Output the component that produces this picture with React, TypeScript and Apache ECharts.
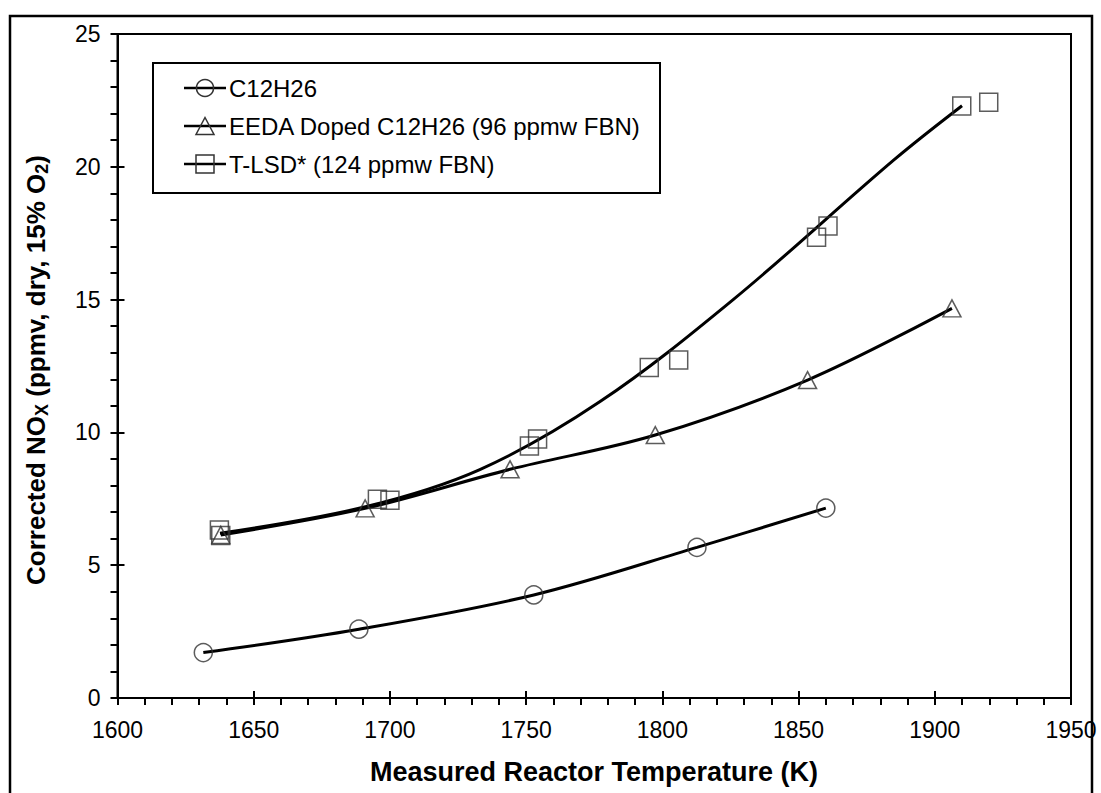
import React, { useEffect, useRef } from "react";
import * as echarts from "echarts";

// ---- data ----
const c12Temp = [1631.5, 1688.6, 1752.8, 1812.7, 1860];
const c12NOx = [1.71, 2.59, 3.88, 5.67, 7.15];

const eedaTemp = [1637.9, 1690.9, 1744.1, 1797.4, 1853.3, 1906.3];
const eedaNOx = [6.14, 7.14, 8.61, 9.9, 11.97, 14.67];

const tlsdTemp = [1637.4, 1637.9, 1695.4, 1700, 1751.2, 1754.2, 1795.2, 1806, 1856.6, 1860.8, 1909.9, 1919.8];
const tlsdNOx = [6.33, 6.12, 7.48, 7.45, 9.49, 9.75, 12.44, 12.73, 17.35, 17.77, 22.29, 22.43];

// trend line of T-LSD
const tlsdTrendTemp = [1637.6, 1691, 1733, 1777, 1826, 1885, 1910];
const tlsdTrendNOx = [6.2, 7.2, 8.6, 11.15, 15.0, 20.26, 22.3];

const seriesNames = ["C12H26", "EEDA Doped C12H26 (96 ppmw FBN)", "T-LSD* (124 ppmw FBN)"];
const xTitle = "Measured Reactor Temperature (K)";

const FONT = "'Liberation Sans', Arial, sans-serif";
const MARK = "#333333";

const zip = (a: number[], b: number[]) => a.map((v, i) => [v, b[i]]);

export default function App() {
  const ref = useRef<HTMLDivElement>(null);
  useEffect(() => {
    if (!ref.current) return;
    const chart = echarts.init(ref.current, undefined, { renderer: "svg" });

    const axisCommon = {
      type: "value" as const,
      splitLine: { show: false },
    };
    const lineStyle = { color: "#000", width: 2 };

    const legendRows = [88, 126, 164];
    const lx0 = 184, lx1 = 226, lcx = 205;
    const legendGraphics: any[] = [
      {
        type: "rect",
        shape: { x: 153, y: 63, width: 507, height: 130 },
        style: { fill: "#fff", stroke: "#000", lineWidth: 2 },
        z: 10,
      },
    ];
    legendRows.forEach((y, i) => {
      legendGraphics.push({
        type: "line",
        shape: { x1: lx0, y1: y, x2: lx1, y2: y },
        style: { stroke: "#000", lineWidth: 2.5 },
        z: 11,
      });
      if (i === 0) {
        legendGraphics.push({
          type: "circle",
          shape: { cx: lcx, cy: y, r: 8.5 },
          style: { fill: "none", stroke: MARK, lineWidth: 1.5 },
          z: 12,
        });
      } else if (i === 1) {
        legendGraphics.push({
          type: "polygon",
          shape: { points: [[lcx, y - 8.5], [lcx + 9, y + 8.5], [lcx - 9, y + 8.5]] },
          style: { fill: "none", stroke: MARK, lineWidth: 1.5 },
          z: 12,
        });
      } else {
        legendGraphics.push({
          type: "rect",
          shape: { x: lcx - 9, y: y - 9, width: 18, height: 18 },
          style: { fill: "none", stroke: MARK, lineWidth: 1.5 },
          z: 12,
        });
      }
      legendGraphics.push({
        type: "text",
        x: 229,
        y: y,
        style: {
          text: seriesNames[i],
          font: `24px ${FONT}`,
          fill: "#000",
          align: "left",
          verticalAlign: "middle",
        },
        z: 12,
      });
    });

    const plain = (v: number) => String(v);

    const option: any = {
      animation: false,
      backgroundColor: "#fff",
      grid: {
        left: 117.5,
        right: 30,
        top: 34,
        bottom: 95,
        show: true,
        borderColor: "#000",
        borderWidth: 2,
        backgroundColor: "transparent",
      },
      xAxis: [
        {
          ...axisCommon,
          min: 1600,
          max: 1950,
          interval: 50,
          position: "bottom",
          axisLine: { show: true, lineStyle },
          axisTick: { show: true, length: 7, lineStyle },
          minorTick: { show: true, splitNumber: 5, length: 7, lineStyle },
          axisLabel: { fontSize: 23, fontFamily: FONT, color: "#000", margin: 20, formatter: plain },
        },
        {
          ...axisCommon,
          min: 1600,
          max: 1950,
          interval: 50,
          position: "bottom",
          axisLine: { show: false },
          axisTick: { show: true, inside: true, length: 7, lineStyle },
          axisLabel: { show: false },
        },
      ],
      yAxis: [
        {
          ...axisCommon,
          min: 0,
          max: 25,
          interval: 5,
          position: "left",
          axisLine: { show: true, lineStyle },
          axisTick: { show: true, length: 7, lineStyle },
          minorTick: { show: true, splitNumber: 5, length: 7, lineStyle },
          axisLabel: { fontSize: 23, fontFamily: FONT, color: "#000", margin: 17, formatter: plain },
        },
        {
          ...axisCommon,
          min: 0,
          max: 25,
          interval: 5,
          position: "left",
          axisLine: { show: false },
          axisTick: { show: true, inside: true, length: 7, lineStyle },
          axisLabel: { show: false },
        },
      ],
      series: [
        {
          name: seriesNames[0] + " fit",
          type: "line",
          data: zip(c12Temp, c12NOx),
          smooth: 0.35,
          showSymbol: false,
          lineStyle: { color: "#000", width: 3 },
          silent: true,
          z: 2,
        },
        {
          name: seriesNames[1] + " fit",
          type: "line",
          data: zip(eedaTemp, eedaNOx),
          smooth: 0.35,
          showSymbol: false,
          lineStyle: { color: "#000", width: 3 },
          silent: true,
          z: 2,
        },
        {
          name: seriesNames[2] + " fit",
          type: "line",
          data: zip(tlsdTrendTemp, tlsdTrendNOx),
          smooth: 0.35,
          showSymbol: false,
          lineStyle: { color: "#000", width: 3 },
          silent: true,
          z: 2,
        },
        {
          name: seriesNames[0],
          type: "scatter",
          data: zip(c12Temp, c12NOx),
          symbol: "circle",
          symbolSize: 18,
          itemStyle: { color: "rgba(0,0,0,0)", borderColor: MARK, borderWidth: 1.5 },
          z: 3,
        },
        {
          name: seriesNames[1],
          type: "scatter",
          data: zip(eedaTemp, eedaNOx),
          symbol: "triangle",
          symbolSize: [18, 17],
          itemStyle: { color: "rgba(0,0,0,0)", borderColor: MARK, borderWidth: 1.5 },
          z: 3,
        },
        {
          name: seriesNames[2],
          type: "scatter",
          data: zip(tlsdTemp, tlsdNOx),
          symbol: "rect",
          symbolSize: 18,
          itemStyle: { color: "rgba(0,0,0,0)", borderColor: MARK, borderWidth: 1.5 },
          z: 3,
        },
      ],
      graphic: [
        {
          type: "rect",
          shape: { x: 10, y: 16, width: 1082, height: 800 },
          style: { fill: "none", stroke: "#000", lineWidth: 2.5 },
          silent: true,
          z: -1,
        },
        {
          type: "text",
          x: 594,
          y: 772,
          style: {
            text: xTitle,
            font: `bold 27px ${FONT}`,
            fill: "#000",
            align: "center",
            verticalAlign: "middle",
          },
        },
        {
          type: "text",
          x: 36,
          y: 370,
          rotation: Math.PI / 2,
          style: {
            text: "{b|Corrected NO}{s|X}{b| (ppmv, dry, 15% O}{s|2}{b|)}",
            align: "center",
            verticalAlign: "middle",
            fill: "#000",
            rich: {
              b: { fontSize: 26, fontWeight: "bold", fontFamily: FONT, lineHeight: 30, fill: "#000" },
              s: {
                fontSize: 18,
                fontWeight: "bold",
                fontFamily: FONT,
                lineHeight: 18,
                verticalAlign: "bottom",
                fill: "#000",
              },
            },
          },
        },
        ...legendGraphics,
      ],
    };
    chart.setOption(option);
    return () => chart.dispose();
  }, []);
  return (
    <div
      ref={ref}
      style={{ position: "absolute", left: 0, top: 0, width: 1101, height: 793 }}
    />
  );
}
